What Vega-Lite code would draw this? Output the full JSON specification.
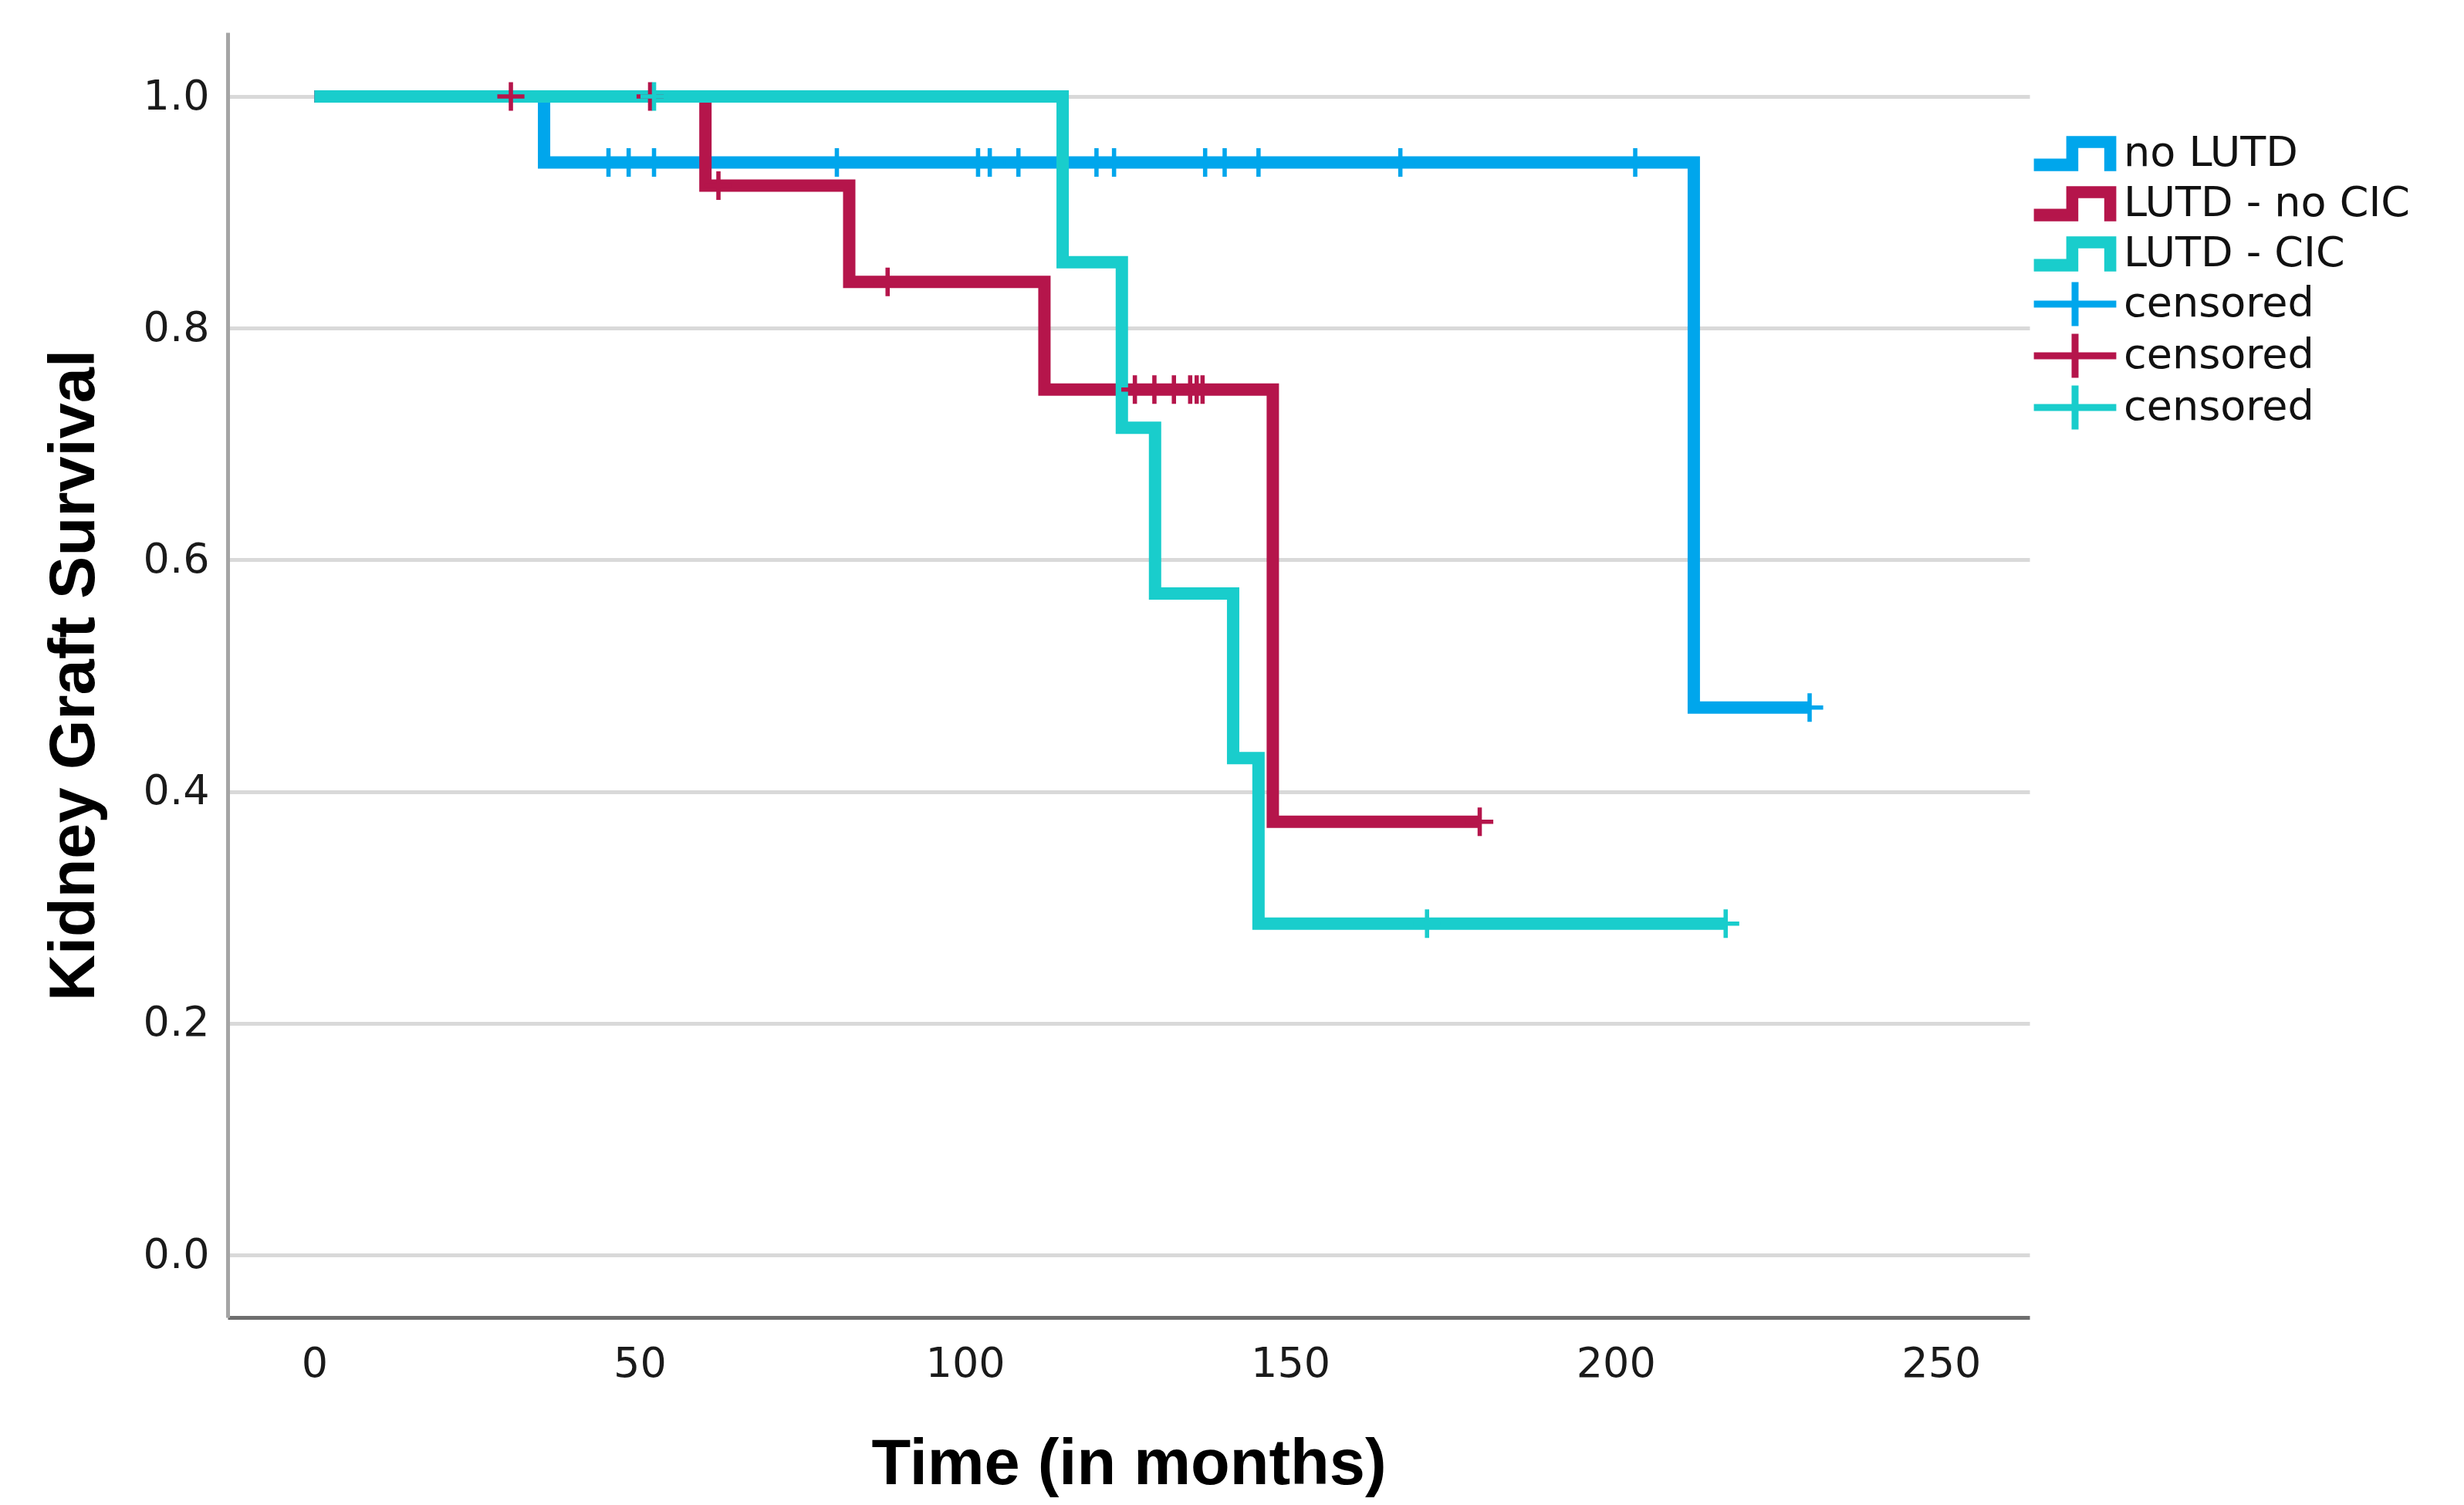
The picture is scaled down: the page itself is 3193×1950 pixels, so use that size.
{
  "$schema": "https://vega.github.io/schema/vega-lite/v6.json",
  "autosize": {"type": "none"},
  "width": 2335,
  "height": 1665,
  "padding": {"left": 295, "top": 42, "right": 563, "bottom": 243},
  "background": "white",
  "config": {
    "view": {"stroke": null},
    "axis": {
      "labelFont": "DejaVu Sans",
      "labelFontSize": 54,
      "labelColor": "#1a1a1a",
      "titleFont": "Liberation Sans",
      "titleFontSize": 83,
      "titleFontWeight": "bold",
      "titleColor": "#000000",
      "ticks": false,
      "tickSize": 0
    }
  },
  "datasets": {
    "curves": [
      {"key": "no LUTD", "t": 0, "s": 1},
      {"key": "no LUTD", "t": 35.3, "s": 0.943},
      {"key": "no LUTD", "t": 212.0, "s": 0.4725},
      {"key": "no LUTD", "t": 229.8, "s": 0.4725},
      {"key": "LUTD - no CIC", "t": 0, "s": 1},
      {"key": "LUTD - no CIC", "t": 60.1, "s": 0.923},
      {"key": "LUTD - no CIC", "t": 82.2, "s": 0.84},
      {"key": "LUTD - no CIC", "t": 112.2, "s": 0.747},
      {"key": "LUTD - no CIC", "t": 147.3, "s": 0.374},
      {"key": "LUTD - no CIC", "t": 179.1, "s": 0.374},
      {"key": "LUTD - CIC", "t": 0, "s": 1},
      {"key": "LUTD - CIC", "t": 115.0, "s": 0.857},
      {"key": "LUTD - CIC", "t": 124.1, "s": 0.714},
      {"key": "LUTD - CIC", "t": 129.2, "s": 0.571},
      {"key": "LUTD - CIC", "t": 141.2, "s": 0.429},
      {"key": "LUTD - CIC", "t": 145.1, "s": 0.286},
      {"key": "LUTD - CIC", "t": 216.9, "s": 0.286}
    ],
    "censored": [
      {"key": "censored (no LUTD)", "t": 45.2, "s": 0.943},
      {"key": "censored (no LUTD)", "t": 48.3, "s": 0.943},
      {"key": "censored (no LUTD)", "t": 52.2, "s": 0.943},
      {"key": "censored (no LUTD)", "t": 80.3, "s": 0.943},
      {"key": "censored (no LUTD)", "t": 102.0, "s": 0.943},
      {"key": "censored (no LUTD)", "t": 103.8, "s": 0.943},
      {"key": "censored (no LUTD)", "t": 108.2, "s": 0.943},
      {"key": "censored (no LUTD)", "t": 120.2, "s": 0.943},
      {"key": "censored (no LUTD)", "t": 122.9, "s": 0.943},
      {"key": "censored (no LUTD)", "t": 136.9, "s": 0.943},
      {"key": "censored (no LUTD)", "t": 139.9, "s": 0.943},
      {"key": "censored (no LUTD)", "t": 145.1, "s": 0.943},
      {"key": "censored (no LUTD)", "t": 166.9, "s": 0.943},
      {"key": "censored (no LUTD)", "t": 203.0, "s": 0.943},
      {"key": "censored (no LUTD)", "t": 229.8, "s": 0.4725},
      {"key": "censored (LUTD - no CIC)", "t": 30.2, "s": 1},
      {"key": "censored (LUTD - no CIC)", "t": 51.6, "s": 1},
      {"key": "censored (LUTD - no CIC)", "t": 62.1, "s": 0.923},
      {"key": "censored (LUTD - no CIC)", "t": 88.1, "s": 0.84},
      {"key": "censored (LUTD - no CIC)", "t": 126.1, "s": 0.747},
      {"key": "censored (LUTD - no CIC)", "t": 129.1, "s": 0.747},
      {"key": "censored (LUTD - no CIC)", "t": 132.1, "s": 0.747},
      {"key": "censored (LUTD - no CIC)", "t": 134.6, "s": 0.747},
      {"key": "censored (LUTD - no CIC)", "t": 135.6, "s": 0.747},
      {"key": "censored (LUTD - no CIC)", "t": 136.5, "s": 0.747},
      {"key": "censored (LUTD - no CIC)", "t": 179.1, "s": 0.374},
      {"key": "censored (LUTD - CIC)", "t": 52.2, "s": 1},
      {"key": "censored (LUTD - CIC)", "t": 171.0, "s": 0.286},
      {"key": "censored (LUTD - CIC)", "t": 216.9, "s": 0.286}
    ]
  },
  "encoding": {
    "x": {
      "field": "t",
      "type": "quantitative",
      "scale": {"domain": [-13.33, 263.6], "nice": false, "zero": false},
      "axis": {
        "title": "Time (in months)",
        "values": [0, 50, 100, 150, 200, 250],
        "grid": false,
        "domainColor": "#6e6e6e",
        "domainWidth": 5,
        "labelPadding": 33,
        "titlePadding": 62
      }
    },
    "y": {
      "field": "s",
      "type": "quantitative",
      "scale": {"domain": [-0.0539, 1.0553], "nice": false, "zero": false},
      "axis": {
        "title": "Kidney Graft Survival",
        "values": [0, 0.2, 0.4, 0.6, 0.8, 1.0],
        "format": ".1f",
        "grid": true,
        "gridColor": "#d9d9d9",
        "gridWidth": 5,
        "domainColor": "#a5a5a5",
        "domainWidth": 5,
        "labelPadding": 24,
        "titlePadding": 47
      }
    }
  },
  "layer": [
    {
      "data": {"name": "censored"},
      "mark": {"type": "point", "filled": true, "size": 0, "opacity": 1},
      "encoding": {
        "color": {
          "field": "key",
          "type": "nominal",
          "scale": {
            "domain": ["no LUTD", "LUTD - no CIC", "LUTD - CIC", "censored (no LUTD)", "censored (LUTD - no CIC)", "censored (LUTD - CIC)"],
            "range": ["#00a6ec", "#b5154b", "#19cdcc", "#00a6ec", "#b5154b", "#19cdcc"]
          },
          "legend": {
            "title": null,
            "orient": "none",
            "legendX": 2364,
            "legendY": 127,
            "direction": "vertical",
            "padding": 0,
            "labelFont": "DejaVu Sans",
            "labelFontSize": 54,
            "labelColor": "#111111",
            "labelOffset": 33,
            "labelLimit": 800,
            "symbolSize": 3600,
            "symbolStrokeWidth": 0,
            "symbolOpacity": 1,
            "rowPadding": 8,
            "labelExpr": "indexof(datum.label, 'censored') == 0 ? 'censored' : datum.label"
          }
        },
        "shape": {
          "field": "key",
          "type": "nominal",
          "scale": {
            "domain": ["no LUTD", "LUTD - no CIC", "LUTD - CIC", "censored (no LUTD)", "censored (LUTD - no CIC)", "censored (LUTD - CIC)"],
            "range": [
              "M-1.78,0.76L-1.78,0.22L-0.38,0.22L-0.38,-0.76L1.78,-0.76L1.78,0.76L1.26,0.76L1.26,-0.24L0.14,-0.24L0.14,0.76Z",
              "M-1.78,0.76L-1.78,0.22L-0.38,0.22L-0.38,-0.76L1.78,-0.76L1.78,0.76L1.26,0.76L1.26,-0.24L0.14,-0.24L0.14,0.76Z",
              "M-1.78,0.76L-1.78,0.22L-0.38,0.22L-0.38,-0.76L1.78,-0.76L1.78,0.76L1.26,0.76L1.26,-0.24L0.14,-0.24L0.14,0.76Z",
              "M-1.78,-0.15L-0.15,-0.15L-0.15,-0.95L0.15,-0.95L0.15,-0.15L1.78,-0.15L1.78,0.15L0.15,0.15L0.15,0.95L-0.15,0.95L-0.15,0.15L-1.78,0.15Z",
              "M-1.78,-0.15L-0.15,-0.15L-0.15,-0.95L0.15,-0.95L0.15,-0.15L1.78,-0.15L1.78,0.15L0.15,0.15L0.15,0.95L-0.15,0.95L-0.15,0.15L-1.78,0.15Z",
              "M-1.78,-0.15L-0.15,-0.15L-0.15,-0.95L0.15,-0.95L0.15,-0.15L1.78,-0.15L1.78,0.15L0.15,0.15L0.15,0.95L-0.15,0.95L-0.15,0.15L-1.78,0.15Z"
            ]
          },
          "legend": {
            "title": null,
            "orient": "none",
            "legendX": 2364,
            "legendY": 127,
            "direction": "vertical",
            "padding": 0,
            "labelFont": "DejaVu Sans",
            "labelFontSize": 54,
            "labelColor": "#111111",
            "labelOffset": 33,
            "labelLimit": 800,
            "symbolSize": 3600,
            "symbolStrokeWidth": 0,
            "symbolOpacity": 1,
            "rowPadding": 8,
            "labelExpr": "indexof(datum.label, 'censored') == 0 ? 'censored' : datum.label"
          }
        }
      }
    },
    {
      "data": {"name": "curves"},
      "mark": {"type": "line", "interpolate": "step-after", "strokeWidth": 16, "strokeCap": "butt", "strokeJoin": "miter"},
      "encoding": {
        "color": {"field": "key", "type": "nominal", "legend": null}
      }
    },
    {
      "data": {"name": "censored"},
      "mark": {
        "type": "point",
        "filled": true,
        "opacity": 1,
        "size": 1370,
        "shape": "M-0.95,-0.15L-0.15,-0.15L-0.15,-1L0.15,-1L0.15,-0.15L0.95,-0.15L0.95,0.15L0.15,0.15L0.15,1L-0.15,1L-0.15,0.15L-0.95,0.15Z"
      },
      "encoding": {
        "color": {"field": "key", "type": "nominal", "legend": null}
      }
    }
  ]
}
